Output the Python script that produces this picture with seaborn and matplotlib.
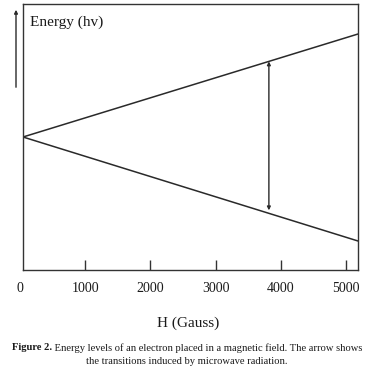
import matplotlib
matplotlib.use("Agg")
import matplotlib.pyplot as plt
import matplotlib.transforms as mtransforms
import matplotlib.patches as mpatches
import seaborn as sns
import pandas as pd

# Data
field = [40, 5190]                 # H (Gauss)
upper_level = [0.0, 1.03]          # Energy (arbitrary units), +1/2 spin
lower_level = [0.0, -1.04]         # Energy, -1/2 spin
transition_H = 3820                # position of microwave transition arrow
xtick_vals = [1000, 2000, 3000, 4000, 5000]
xtick_labels = ["1000", "2000", "3000", "4000", "5000"]

sns.set_theme(style="white")
plt.rcParams["font.family"] = ["Liberation Serif", "DejaVu Serif"]

df = pd.DataFrame({
    "H": field + field,
    "E": upper_level + lower_level,
    "level": ["up"] * 2 + ["down"] * 2,
})

fig = plt.figure(figsize=(3.74, 3.72), dpi=100)
ax = fig.add_axes([23 / 374, 1 - 270 / 372, (358 - 23) / 374, (270 - 4) / 372])

sns.lineplot(data=df, x="H", y="E", units="level", estimator=None,
             color="#2a2a2a", linewidth=1.1, ax=ax, legend=False)

ax.set_xlim(field[0], field[1])
ax.set_ylim(-1.33, 1.33)

# transition arrow
slope_u = (upper_level[1] - upper_level[0]) / (field[1] - field[0])
slope_l = (lower_level[1] - lower_level[0]) / (field[1] - field[0])
e_top = upper_level[0] + slope_u * (transition_H - field[0])
e_bot = lower_level[0] + slope_l * (transition_H - field[0]) + 0.03
ax.annotate("", xy=(transition_H, e_top), xytext=(transition_H, e_bot),
            arrowprops=dict(arrowstyle="<|-|>", color="#2a2a2a", lw=1.0,
                            mutation_scale=5, shrinkA=0, shrinkB=0))

for s in ax.spines.values():
    s.set_color("#333333")
    s.set_linewidth(1.0)

ax.set_yticks([])
ax.set_xticks(xtick_vals)
ax.set_xticklabels(xtick_labels)
ax.tick_params(axis="x", direction="in", length=7, width=1.0, color="#333333",
               pad=9, labelsize=10, labelcolor="#1a1a1a", bottom=True)
ax.set_xlabel("")
ax.set_ylabel("")

# "0" label left of the axis range
fig.canvas.draw()
r = fig.canvas.get_renderer()
lab_bb = ax.get_xticklabels()[0].get_window_extent(r)
y_lab = (lab_bb.y0 + lab_bb.y1) / 2
trans0 = mtransforms.blended_transform_factory(ax.transData, mtransforms.IdentityTransform())
ax.text(0, y_lab, "0", transform=trans0, ha="center", va="center",
        fontsize=10, color="#1a1a1a", clip_on=False)

ax.text(0.022, 0.955, "Energy (hv)", transform=ax.transAxes, fontsize=11,
        ha="left", va="top", color="#1a1a1a")

# vertical energy arrow outside axes
fig.patches.append(mpatches.FancyArrowPatch(
    (16 / 374, 1 - 90 / 372), (16 / 374, 1 - 7 / 372), transform=fig.transFigure,
    arrowstyle="-|>", mutation_scale=5, color="#2a2a2a", lw=1.0))

fig.text(188 / 374, 1 - 323 / 372, "H (Gauss)", ha="center", va="center",
         fontsize=11, color="#1a1a1a")

# caption
bold = "Figure 2."
rest = " Energy levels of an electron placed in a magnetic field. The arrow shows"
fs = 7.6
y1 = 1 - 348 / 372
t1 = fig.text(0, y1, bold, fontsize=fs, fontweight="bold", va="center", ha="left", color="#1a1a1a")
t2 = fig.text(0, y1, rest, fontsize=fs, va="center", ha="left", color="#1a1a1a")
w1 = t1.get_window_extent(r).width
w2 = t2.get_window_extent(r).width
x0 = (374 - (w1 + w2)) / 2
t1.set_x(x0 / 374)
t2.set_x((x0 + w1) / 374)
fig.text(187 / 374, 1 - 362 / 372, "the transitions induced by microwave radiation.",
         fontsize=fs, ha="center", va="center", color="#1a1a1a")

fig.savefig("out.png", dpi=100)
